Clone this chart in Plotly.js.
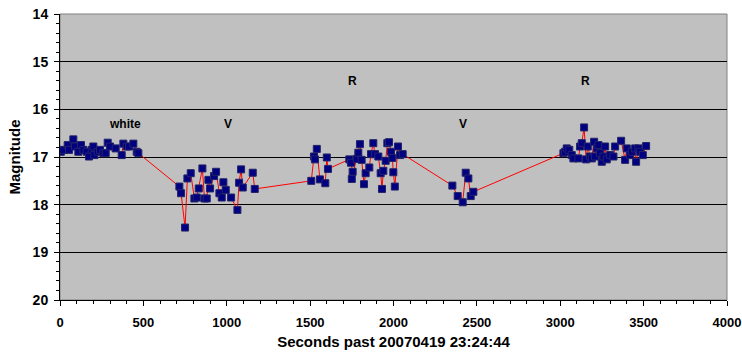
<!DOCTYPE html>
<html>
<head>
<meta charset="utf-8">
<script src="https://cdn.plot.ly/plotly-3.0.1.min.js"></script>
<style>html,body{margin:0;padding:0;background:#fff;}#chart{width:742px;height:356px;}</style>
</head>
<body>
<div id="chart"></div>
<script>
const seconds = [5,20,46,54,80,90,110,126,140,160,174,190,200,206,226,240,260,274,286,300,334,370,380,400,414,440,460,470,
716,726,750,764,784,806,820,832,854,866,880,890,900,924,936,956,970,980,994,1026,1064,1074,1086,1096,1156,1168,
1507,1523,1529,1540,1559,1591,1600,1607,
1735,1745,1755,1750,1779,1789,1799,1809,1823,1833,1855,1865,1879,1889,1909,1923,1931,1939,1953,1963,1973,1985,1993,1999,2008,2027,2039,2055,
2353,2385,2415,2433,2449,2463,2479,
3019,3029,3039,3054,3069,3079,3109,3119,3129,3143,3155,3165,3179,3189,3203,3209,3219,3229,3239,3249,3259,3269,3279,3299,3319,3329,3365,3389,3399,3419,3429,3449,3455,3469,3479,3495,3515];
const magnitude = [16.89,16.85,16.75,16.85,16.63,16.78,16.89,16.75,16.85,16.89,16.99,16.85,16.78,16.96,16.89,16.85,16.92,16.92,16.70,16.78,16.82,16.96,16.72,16.78,16.78,16.72,16.89,16.92,
17.62,17.76,18.48,17.45,17.34,17.87,17.85,17.66,17.24,17.87,17.87,17.48,17.66,17.40,17.31,17.76,17.85,17.53,17.69,17.85,18.11,17.54,17.26,17.64,17.33,17.67,
17.50,16.99,17.05,16.83,17.47,17.55,17.01,17.25,
17.05,17.12,17.31,17.46,17.04,16.91,16.73,17.06,17.57,17.34,17.22,16.94,16.71,16.94,16.99,17.34,17.67,17.29,17.08,16.71,16.69,16.89,17.02,17.32,17.62,16.78,16.96,16.94,
17.60,17.82,17.95,17.33,17.45,17.82,17.73,
16.92,16.89,16.82,16.85,16.96,17.03,17.03,16.78,16.71,16.38,17.05,16.78,16.99,17.03,16.68,16.99,16.82,16.75,16.92,17.10,16.99,16.78,17.05,16.96,16.99,16.78,16.66,17.06,16.82,16.96,16.89,16.82,17.10,16.82,16.89,16.96,16.77];
const xTickVals = [0,500,1000,1500,2000,2500,3000,3500,4000];
const xTickText = ["0","500","1000","1500","2000","2500","3000","3500","4000"];
const yTickVals = [14,15,16,17,18,19,20];
const yTickText = ["14","15","16","17","18","19","20"];
const labelText = ["white","V","R","V","R"];
const labelX = [390,1008,1757,2417,3149];
const labelY = [16.31,16.31,15.41,16.31,15.41];

const fontFam = "Liberation Sans, Arial, sans-serif";
const bold = s => '<b>' + s + '</b>';
const trace = {
  x: seconds, y: magnitude, type: 'scatter', mode: 'lines+markers',
  line: {color: '#ff0000', width: 1},
  marker: {symbol: 'square', size: 7, color: '#000080', line: {color: '#23236a', width: 1}},
  hoverinfo: 'skip'
};
const annotations = labelText.map((t,i)=>({
  x: labelX[i], y: labelY[i], xref:'x', yref:'y', text: bold(t), showarrow:false,
  font:{family:fontFam, size:12, color:'#000'}
}));
const layout = {
  width: 742, height: 356,
  margin: {l:60, r:15, t:14, b:56},
  paper_bgcolor: '#ffffff', plot_bgcolor: '#c0c0c0',
  showlegend: false,
  font: {family: fontFam, color: '#000'},
  xaxis: {
    range: [0,4000], tickmode: 'array', tickvals: xTickVals, ticktext: xTickText.map(bold),
    showgrid: false, zeroline: false,
    showline: true, linecolor: '#000', linewidth: 1,
    ticks: 'outside', ticklen: 5, tickcolor: '#000', ticklabelstandoff: 5,
    minor: {tickmode: 'linear', tick0: 0, dtick: 100, ticks: 'outside', ticklen: 3, tickcolor: '#000', showgrid: false},
    tickfont: {family: fontFam, size: 13, color:'#000'},
    automargin: false,
    title: {text: bold('Seconds past 20070419 23:24:44'), font: {family: fontFam, size: 15, color:'#000'}, standoff: 7}
  },
  yaxis: {
    range: [20,14], tickmode: 'array', tickvals: yTickVals, ticktext: yTickText.map(bold),
    showgrid: true, gridcolor: '#000', gridwidth: 1, zeroline: false,
    showline: true, linecolor: '#000', linewidth: 1,
    ticks: 'outside', ticklen: 5, tickcolor: '#000', ticklabelstandoff: 3,
    minor: {tickmode: 'linear', tick0: 14, dtick: 0.2, ticks: 'outside', ticklen: 3, tickcolor: '#000', showgrid: false},
    tickfont: {family: fontFam, size: 14, color:'#000'},
    automargin: false,
    title: {text: bold('Magnitude'), font: {family: fontFam, size: 15, color:'#000'}, standoff: 8}
  },
  shapes: [{type:'rect', xref:'paper', yref:'paper', x0:0, x1:1, y0:0, y1:1, line:{color:'#808080', width:1}, layer:'below'}],
  annotations: annotations
};
Plotly.newPlot('chart', [trace], layout, {staticPlot: true, displayModeBar: false});
</script>
</body>
</html>
